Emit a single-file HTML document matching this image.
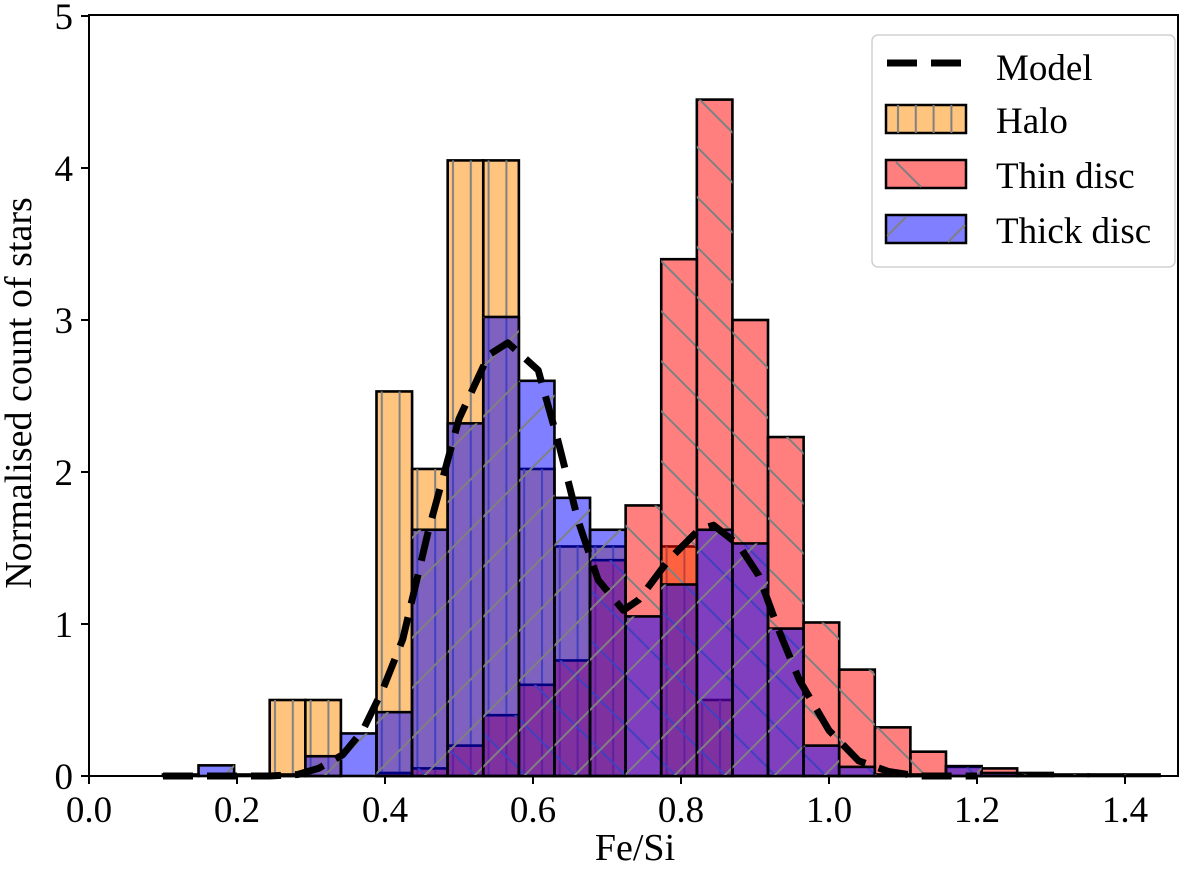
<!DOCTYPE html>
<html><head><meta charset="utf-8"><style>
body{margin:0;background:#fff}
svg text{font-family:"Liberation Serif",serif;fill:#000}
</style></head><body>
<svg id="chart" width="1200" height="870" viewBox="0 0 1200 870" xmlns="http://www.w3.org/2000/svg">
<defs>
<pattern id="hatchV" patternUnits="userSpaceOnUse" width="17.8" height="10"><line x1="8" y1="0" x2="8" y2="10" stroke="#808080" stroke-width="2"/></pattern>
<pattern id="hatchB" patternUnits="userSpaceOnUse" width="50" height="50"><line x1="0" y1="0" x2="50" y2="50" stroke="#808080" stroke-width="2"/><line x1="-5" y1="45" x2="5" y2="55" stroke="#808080" stroke-width="2"/><line x1="45" y1="-5" x2="55" y2="5" stroke="#808080" stroke-width="2"/></pattern>
<pattern id="hatchF" patternUnits="userSpaceOnUse" width="50" height="50"><line x1="0" y1="50" x2="50" y2="0" stroke="#808080" stroke-width="2"/><line x1="-5" y1="5" x2="5" y2="-5" stroke="#808080" stroke-width="2"/><line x1="45" y1="55" x2="55" y2="45" stroke="#808080" stroke-width="2"/></pattern>
</defs>
<g id="bars"></g>
<g id="model"></g>
<g id="axes"></g>
<g id="legend">
<rect x="872" y="35" width="303" height="232" rx="6" fill="#fff" fill-opacity="0.85" stroke="#d0d0d0" stroke-width="1.5"/>
<line x1="887" y1="63" x2="962" y2="63" stroke="#000" stroke-width="7" stroke-dasharray="30,14"/>
<text x="996" y="80" font-size="37">Model</text>
<rect x="886" y="105" width="80" height="28" fill="#ff8c00" fill-opacity="0.5" stroke="#000" stroke-width="2.5"/>
<rect x="886" y="105" width="80" height="28" fill="url(#hatchV)"/>
<text x="996" y="133" font-size="37">Halo</text>
<rect x="886" y="160" width="80" height="28" fill="#ff0000" fill-opacity="0.5" stroke="#000" stroke-width="2.5"/>
<line x1="896" y1="162" x2="921" y2="187" stroke="#808080" stroke-width="2"/>
<text x="996" y="188" font-size="37">Thin disc</text>
<rect x="886" y="215" width="80" height="28" fill="#0000ff" fill-opacity="0.5" stroke="#000" stroke-width="2.5"/>
<line x1="887" y1="236" x2="906" y2="217" stroke="#808080" stroke-width="2"/>
<line x1="948" y1="242" x2="965" y2="225" stroke="#808080" stroke-width="2"/>
<text x="996" y="243" font-size="37">Thick disc</text>
</g>
</svg>
<script>
const binStart = 0.0999;
const binWidth = 0.0481;
const halo = [0,0,0, 0.5,0.5,0,2.53,2.02,4.05,4.05,2.02,1.51,1.51,0,1.51,0.5,0,0,0,0,0,0,0,0,0,0,0,0];
const thin = [0,0,0, 0,0,0,0.02,0.05,0.2,0.4,0.6,0.76,1.42,1.78,3.4,4.45,3.0,2.23,1.01,0.7,0.32,0.16,0.06,0.05,0.02,0.01,0.01,0.01];
const thick = [0.01,0.07,0.01, 0.01,0.13,0.28,0.42,1.62,2.32,3.02,2.6,1.83,1.62,1.05,1.26,1.62,1.53,0.97,0.2,0.06,0.01,0.01,0.065,0.02,0.01,0,0,0];
const modelX = [0.1,0.2,0.244,0.282,0.31,0.343,0.37,0.397,0.424,0.458,0.5,0.54,0.566,0.607,0.634,0.661,0.688,0.722,0.743,0.783,0.824,0.844,0.878,0.905,0.932,0.96,1.0,1.04,1.08,1.12,1.2];
const modelY = [0,0,0,0.01,0.05,0.14,0.3,0.57,0.9,1.6,2.35,2.77,2.85,2.67,2.2,1.68,1.29,1.09,1.16,1.42,1.62,1.65,1.52,1.32,0.96,0.63,0.3,0.1,0.03,0,0];
const xTicks = [0,0.2,0.4,0.6,0.8,1.0,1.2,1.4];
const xTickLabels = ["0.0","0.2","0.4","0.6","0.8","1.0","1.2","1.4"];
const yTicks = [0,1,2,3,4,5];
const yTickLabels = ["0","1","2","3","4","5"];

const X0=89, X1=1178, Y0=776, Y1=15;
const xs = v => X0 + v*740;
const ys = v => Y0 - v*152;
const NS="http://www.w3.org/2000/svg";
function mk(tag, attrs, parent){const e=document.createElementNS(NS,tag);for(const k in attrs)e.setAttribute(k,attrs[k]);parent.appendChild(e);return e;}

const bars=document.getElementById('bars');
function drawSeries(vals, color, hatch, name){
  vals.forEach((v,i)=>{
    if(v<=0)return;
    const x=xs(binStart+i*binWidth), w=binWidth*740, y=ys(v), h=Y0-y;
    const r=mk('rect',{x:x,y:y,width:w,height:h,fill:color,'fill-opacity':0.5,stroke:'#000','stroke-width':2.6},bars);
    
    
    mk('rect',{x:x,y:y,width:w,height:h,fill:'url(#'+hatch+')'},bars);
  });
}
drawSeries(halo,'#ff8c00','hatchV','halo');
drawSeries(thin,'#ff0000','hatchB','thin-disc');
drawSeries(thick,'#0000ff','hatchF','thick-disc');

const mg=document.getElementById('model');
const pts=modelX.map((x,i)=>xs(x).toFixed(1)+','+ys(modelY[i]).toFixed(1)).join(' ');
const pl=mk('polyline',{points:pts,fill:'none',stroke:'#000','stroke-width':7,'stroke-dasharray':'30,14','stroke-linejoin':'round'},mg);



const ax=document.getElementById('axes');
const frame=mk('rect',{x:X0,y:Y1,width:X1-X0,height:Y0-Y1,fill:'none',stroke:'#000','stroke-width':2},ax);


xTicks.forEach((t,i)=>{
  const x=xs(t);
  mk('line',{x1:x,y1:Y0,x2:x,y2:Y0+8,stroke:'#000','stroke-width':2},ax);
  const tx=mk('text',{x:x,y:822,'font-size':37,'text-anchor':'middle'},ax);
  tx.textContent=xTickLabels[i];
  
  
});
yTicks.forEach((t,i)=>{
  const y=ys(t);
  mk('line',{x1:X0-8,y1:y,x2:X0,y2:y,stroke:'#000','stroke-width':2},ax);
  const tx=mk('text',{x:73,y:y+13,'font-size':37,'text-anchor':'end'},ax);
  tx.textContent=yTickLabels[i];
  
  
});
const xl=mk('text',{x:635,y:860,'font-size':38,'text-anchor':'middle'},ax);
xl.textContent='Fe/Si';


const yl=mk('text',{x:0,y:0,'font-size':38,'text-anchor':'middle',transform:'translate(31,393) rotate(-90)'},ax);
yl.textContent='Normalised count of stars';


</script>
</body></html>
